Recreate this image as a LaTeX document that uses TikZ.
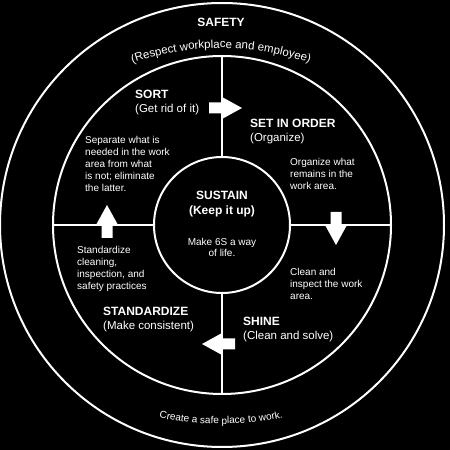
\documentclass[tikz,border=0pt]{standalone}
\usepackage{fontspec}
\setmainfont{Liberation Sans}
\usetikzlibrary{positioning, decorations.text}
\tikzset{
    ring/.style={
        circle,
        draw=white,
        line width=2pt,
        inner sep=0pt,
        outer sep=0pt
    },
    divider/.style={draw=white, line width=2pt},
    stagetitle/.style={
        text=white,
        align=left,
        anchor=west,
        inner sep=0pt,
        font=\fontsize{11.5}{14}\selectfont
    },
    stagebody/.style={
        text=white,
        align=left,
        anchor=west,
        inner sep=0pt,
        font=\fontsize{10}{12}\selectfont
    },
    centertitle/.style={
        text=white,
        align=center,
        inner sep=0pt,
        font=\bfseries\fontsize{12}{15}\selectfont
    },
    centerbody/.style={
        text=white,
        align=center,
        inner sep=0pt,
        font=\fontsize{10}{11}\selectfont
    },
    blockarrow/.pic={
        \fill[white] (-13,-5.5) -- (0,-5.5) -- (0,-11) -- (20,0) -- (0,11) -- (0,5.5) -- (-13,5.5) -- cycle;
    }
}
\newcommand{\ttl}[1]{{\bfseries\fontsize{12}{14}\selectfont #1}}

\begin{document}
\begin{tikzpicture}[x=1pt, y=1pt]
    \fill[black] (0,0) rectangle (450,450);
    \useasboundingbox (0,0) rectangle (450,450);

    \coordinate (c) at (222,225);
    \node[ring, minimum size=444pt] (outer) at (c) {};
    \node[ring, minimum size=338pt] (middle) at (c) {};
    \node[ring, minimum size=136pt] (inner) at (c) {};

    % quadrant dividers
    \draw[divider] (inner.north) -- (middle.north);
    \draw[divider] (inner.south) -- (middle.south);
    \draw[divider] (inner.west) -- (middle.west);
    \draw[divider] (inner.east) -- (middle.east);

    % outer band texts
    \node[centertitle] (safety) at (221,428) {SAFETY};
    \path[decorate, decoration={text along path, text align=center,
        text={|\color{white}\fontsize{11.5}{13}\selectfont|(Respect workplace and employee)}}]
        (221,136) ++(113:266) arc[start angle=113, end angle=67, radius=266];
    \path[decorate, decoration={text along path, text align=center,
        text={|\color{white}\fontsize{10}{12}\selectfont|Create a safe place to work.}}]
        (221,330) ++(245:304) arc[start angle=245, end angle=295, radius=304];

    % stages
    \node[stagetitle] (sort) at (135,347) {\ttl{SORT}\\(Get rid of it)};
    \node[stagebody] (sortTxt) at (85,286) {Separate what is\\needed in the work\\area from what\\is not; eliminate\\the latter.};

    \node[stagetitle] (order) at (250,318) {\ttl{SET IN ORDER}\\(Organize)};
    \node[stagebody] (orderTxt) at (290,276) {Organize what\\remains in the\\work area.};

    \node[stagebody] (shineTxt) at (290,166) {Clean and\\inspect the work\\area.};
    \node[stagetitle] (shine) at (243,120.5) {\ttl{SHINE}\\(Clean and solve)};

    \node[stagebody] (stdTxt) at (77,181.5) {Standardize\\cleaning,\\inspection, and\\safety practices};
    \node[stagetitle] (std) at (103,130) {\ttl{STANDARDIZE}\\(Make consistent)};

    \node[centertitle] (sustain) at (222,245.5) {SUSTAIN\\(Keep it up)};
    \node[centerbody] (sustainTxt) at (222,203) {Make 6S a way\\of life.};

    % flow arrows
    \pic at (222,342) {blockarrow};
    \pic[rotate=-90] at (336,225) {blockarrow};
    \pic[rotate=180] at (222,106) {blockarrow};
    \pic[rotate=90] at (107,225) {blockarrow};
\end{tikzpicture}
\end{document}
